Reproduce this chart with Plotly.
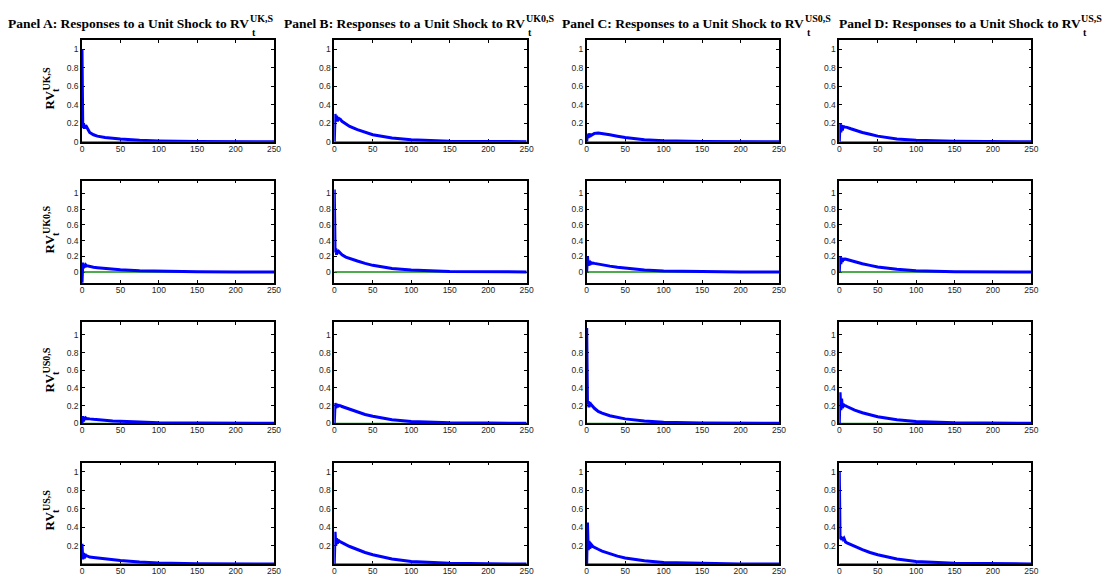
import plotly.graph_objects as go

# ---------------- data ----------------
H = [0, 1, 2, 3, 4, 5, 6, 8, 10, 15, 20, 30, 40, 50, 75, 100, 150, 200, 250]

# row 1: response of RV UK,S
uk_to_uk   = [1.00, 0.15, 0.20, 0.14, 0.18, 0.15, 0.16, 0.12, 0.10, 0.075, 0.060, 0.045, 0.035, 0.028, 0.015, 0.008, 0.003, 0.001, 0.0]
uk_to_uk0  = [0.00, 0.30, 0.22, 0.28, 0.22, 0.26, 0.25, 0.24, 0.22, 0.19, 0.165, 0.13, 0.10, 0.075, 0.040, 0.020, 0.006, 0.002, 0.0]
uk_to_us0  = [0.00, 0.08, 0.04, 0.09, 0.05, 0.08, 0.07, 0.08, 0.09, 0.095, 0.09, 0.075, 0.060, 0.045, 0.020, 0.010, 0.003, 0.001, 0.0]
uk_to_us   = [0.00, 0.20, 0.10, 0.18, 0.12, 0.17, 0.16, 0.16, 0.155, 0.14, 0.125, 0.10, 0.080, 0.060, 0.030, 0.015, 0.004, 0.001, 0.0]
# row 2: response of RV UK0,S
uk0_to_uk  = [-0.15, 0.12, 0.05, 0.10, 0.06, 0.09, 0.08, 0.075, 0.07, 0.06, 0.055, 0.045, 0.035, 0.028, 0.015, 0.008, 0.003, 0.001, 0.0]
uk0_to_uk0 = [1.05, 0.25, 0.30, 0.22, 0.28, 0.24, 0.26, 0.24, 0.22, 0.19, 0.17, 0.14, 0.11, 0.085, 0.045, 0.025, 0.008, 0.003, 0.001]
uk0_to_us0 = [0.00, 0.20, 0.08, 0.14, 0.09, 0.12, 0.11, 0.115, 0.11, 0.10, 0.09, 0.075, 0.060, 0.048, 0.025, 0.012, 0.004, 0.001, 0.0]
uk0_to_us  = [0.00, 0.20, 0.10, 0.18, 0.13, 0.17, 0.16, 0.165, 0.16, 0.145, 0.13, 0.105, 0.085, 0.065, 0.035, 0.017, 0.005, 0.001, 0.0]
# row 3: response of RV US0,S
us0_to_uk  = [0.00, 0.08, 0.02, 0.07, 0.04, 0.06, 0.055, 0.05, 0.05, 0.045, 0.04, 0.033, 0.027, 0.022, 0.012, 0.006, 0.002, 0.001, 0.0]
us0_to_uk0 = [0.00, 0.23, 0.17, 0.22, 0.18, 0.21, 0.20, 0.20, 0.19, 0.175, 0.16, 0.13, 0.10, 0.080, 0.040, 0.020, 0.006, 0.002, 0.0]
us0_to_us0 = [1.08, 0.22, 0.25, 0.18, 0.24, 0.20, 0.21, 0.19, 0.17, 0.135, 0.115, 0.085, 0.065, 0.050, 0.025, 0.012, 0.004, 0.001, 0.0]
us0_to_us  = [0.00, 0.35, 0.15, 0.28, 0.17, 0.22, 0.20, 0.20, 0.19, 0.17, 0.15, 0.12, 0.095, 0.075, 0.040, 0.020, 0.006, 0.002, 0.0]
# row 4: response of RV US,S
us_to_uk   = [0.22, 0.05, 0.12, 0.06, 0.11, 0.08, 0.09, 0.08, 0.075, 0.07, 0.065, 0.055, 0.045, 0.037, 0.022, 0.012, 0.004, 0.001, 0.0]
us_to_uk0  = [0.00, 0.35, 0.20, 0.28, 0.22, 0.26, 0.25, 0.24, 0.23, 0.21, 0.19, 0.155, 0.125, 0.10, 0.055, 0.028, 0.008, 0.002, 0.0]
us_to_us0  = [0.00, 0.45, 0.15, 0.25, 0.17, 0.20, 0.21, 0.19, 0.18, 0.16, 0.14, 0.11, 0.085, 0.065, 0.035, 0.017, 0.005, 0.001, 0.0]
us_to_us   = [1.00, 0.27, 0.30, 0.26, 0.29, 0.27, 0.28, 0.24, 0.23, 0.21, 0.19, 0.155, 0.125, 0.10, 0.055, 0.028, 0.008, 0.002, 0.0]

ZERO_X = [0, 250]
ZERO_Y = [0, 0]

X_TICKS = [0, 50, 100, 150, 200, 250]
Y_TICKS = [0, 0.2, 0.4, 0.6, 0.8, 1]
Y_TICKS_LAST = [0.2, 0.4, 0.6, 0.8, 1]

PANEL_TEXT = ["Panel A: Responses to a Unit Shock to RV",
              "Panel B: Responses to a Unit Shock to RV",
              "Panel C: Responses to a Unit Shock to RV",
              "Panel D: Responses to a Unit Shock to RV"]
SHOCK_SUP = ["UK,S", "UK0,S", "US0,S", "US,S"]
ROW_SUP = ["UK,S", "UK0,S", "US0,S", "US,S"]

GRID = [
    [uk_to_uk, uk_to_uk0, uk_to_us0, uk_to_us],
    [uk0_to_uk, uk0_to_uk0, uk0_to_us0, uk0_to_us],
    [us0_to_uk, us0_to_uk0, us0_to_us0, us0_to_us],
    [us_to_uk, us_to_uk0, us_to_us0, us_to_us],
]

# ---------------- layout geometry (pixels) ----------------
W, HGT = 1107, 574
COLS_PX = [(82, 274), (334.3, 526.7), (586.7, 779), (839.3, 1031.3)]
ROWS_PX = [(40, 141.7), (180.7, 282.7), (322, 423.3), (462.7, 564)]
Y_RANGES = [[0, 1.1], [-0.136, 1.163], [0, 1.147], [0, 1.1]]


def px(x):
    return x / W


def py(y):
    return 1 - y / HGT


fig = go.Figure()
layout = dict(template="none", width=W, height=HGT, autosize=False,
              margin=dict(l=0, r=0, t=0, b=0, pad=0),
              paper_bgcolor="white", plot_bgcolor="white",
              showlegend=False)

TICKFONT = dict(family="Liberation Sans, Arial, sans-serif", size=8.5, color="#262626")

k = 0
for r in range(4):
    for c in range(4):
        k += 1
        xa = "x" if k == 1 else f"x{k}"
        ya = "y" if k == 1 else f"y{k}"
        fig.add_trace(go.Scatter(x=ZERO_X, y=ZERO_Y, mode="lines",
                                 line=dict(color="rgb(20,140,20)", width=1.3),
                                 xaxis=xa, yaxis=ya, hoverinfo="skip"))
        fig.add_trace(go.Scatter(x=H, y=GRID[r][c], mode="lines",
                                 line=dict(color="#0000ff", width=3),
                                 xaxis=xa, yaxis=ya))
        xname = "xaxis" if k == 1 else f"xaxis{k}"
        yname = "yaxis" if k == 1 else f"yaxis{k}"
        layout[xname] = dict(domain=[px(COLS_PX[c][0]), px(COLS_PX[c][1])],
                             anchor=ya, range=[0, 250], automargin=False,
                             tickmode="array", tickvals=X_TICKS,
                             ticks="inside", ticklen=3, tickwidth=1, tickcolor="black",
                             showline=True, linecolor="black", linewidth=1.5,
                             mirror="allticks", showgrid=False, zeroline=False,
                             ticklabelstandoff=-2,
                             tickfont=TICKFONT, layer="below traces")
        yt = Y_TICKS_LAST if r == 3 else Y_TICKS
        layout[yname] = dict(domain=[py(ROWS_PX[r][1]), py(ROWS_PX[r][0])],
                             anchor=xa, range=Y_RANGES[r], automargin=False,
                             tickmode="array", tickvals=yt,
                             ticktext=[f"{v:g}" for v in yt],
                             ticks="inside", ticklen=3, tickwidth=1, tickcolor="black",
                             showline=True, linecolor="black", linewidth=1.5,
                             mirror="allticks", showgrid=False, zeroline=False,
                             tickfont=TICKFONT, layer="below traces")

fig.update_layout(**layout)

SERIF = "Liberation Serif, Times New Roman, serif"
ann = []
# panel titles
RV_END = [250, 526, 805, 1081.7]
for c in range(4):
    ann.append(dict(text=f"<b>{PANEL_TEXT[c]}</b>", x=px(RV_END[c]), y=py(24),
                    xref="paper", yref="paper", xanchor="right", yanchor="middle",
                    showarrow=False, borderpad=0,
                    font=dict(family=SERIF, size=13.5, color="black")))
    ann.append(dict(text=f"<b>{SHOCK_SUP[c]}</b>", x=px(RV_END[c] - 1.5), y=py(18.3),
                    xref="paper", yref="paper", xanchor="left", yanchor="middle",
                    showarrow=False, borderpad=0,
                    font=dict(family=SERIF, size=10, color="black")))
    ann.append(dict(text="<b>t</b>", x=px(RV_END[c] + 0.5), y=py(32.5),
                    xref="paper", yref="paper", xanchor="left", yanchor="middle",
                    showarrow=False, borderpad=0,
                    font=dict(family=SERIF, size=10, color="black")))

# y-axis labels for first column (rotated)
RV_BOTTOM = [111, 255, 394, 532]
for r in range(4):
    b = RV_BOTTOM[r]
    ann.append(dict(text="<b>RV</b>", x=px(49), y=py(b),
                    xref="paper", yref="paper", xanchor="center", yanchor="bottom",
                    textangle=-90, showarrow=False, borderpad=0,
                    font=dict(family=SERIF, size=13, color="black")))
    ann.append(dict(text=f"<b>{ROW_SUP[r]}</b>", x=px(46), y=py(b - 19.5),
                    xref="paper", yref="paper", xanchor="center", yanchor="bottom",
                    textangle=-90, showarrow=False, borderpad=0,
                    font=dict(family=SERIF, size=10, color="black")))
    ann.append(dict(text="<b>t</b>", x=px(55.5), y=py(b - 20.5),
                    xref="paper", yref="paper", xanchor="center", yanchor="middle",
                    textangle=-90, showarrow=False, borderpad=0,
                    font=dict(family=SERIF, size=10, color="black")))

fig.update_layout(annotations=ann)
fig.write_html("out.html", config={"displayModeBar": False},
               post_script="document.body.style.margin='0';document.body.style.padding='0';document.body.style.overflow='hidden';")
